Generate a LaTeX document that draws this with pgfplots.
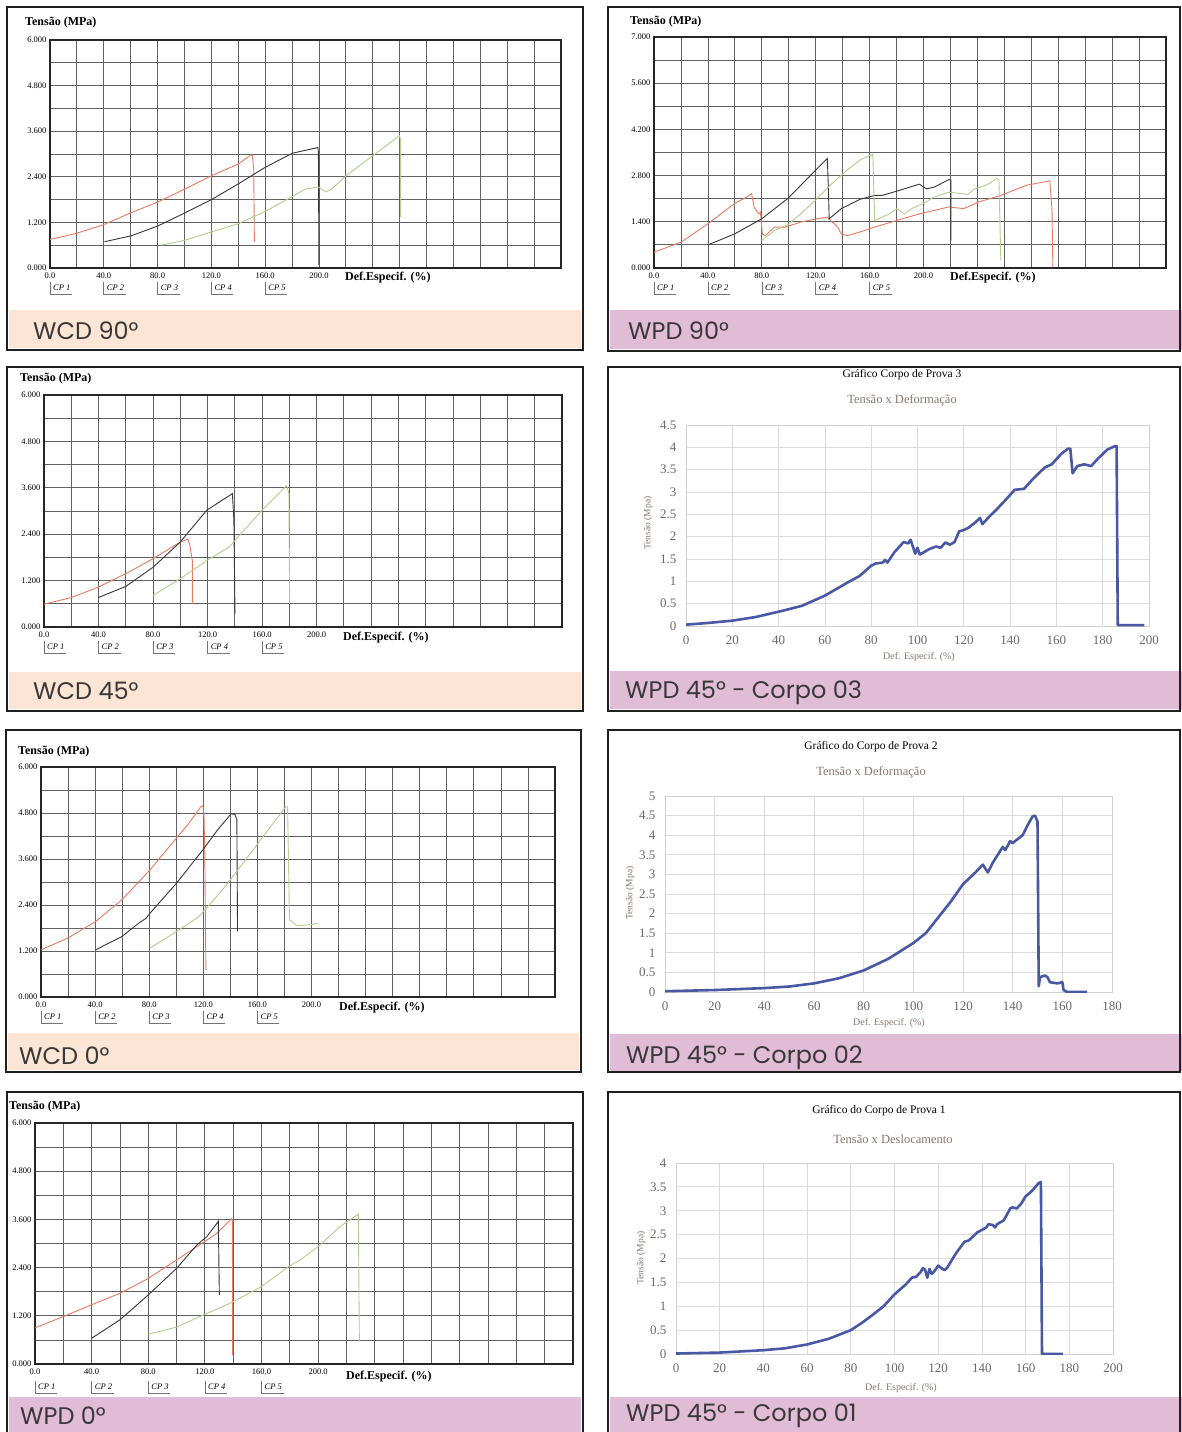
\documentclass[border=0pt]{standalone}
\usepackage{pgfplots}
\pgfplotsset{compat=1.18}
\usepackage{fontspec}
\setmainfont{Liberation Serif}
\newfontfamily\gothic{Poppins}
\definecolor{cpred}{RGB}{232,122,98}
\definecolor{cpblack}{RGB}{55,55,55}
\definecolor{cpgreen}{RGB}{178,206,140}
\definecolor{xblue}{RGB}{72,88,164}
\definecolor{peach}{RGB}{252,229,212}
\definecolor{lilac}{RGB}{225,188,214}
\definecolor{xgray}{RGB}{105,105,105}
\definecolor{subt}{RGB}{135,118,112}
\pgfplotsset{
  cpaxis/.style={scale only axis, anchor=north west, xmin=0, xmax=380, ymin=0,
    xtick={0,20,...,380},
    xticklabels={0.0,,40.0,,80.0,,120.0,,160.0,,200.0,,,,,,,,,},
    grid=major, major grid style={draw=black!62, line width=0.8pt},
    axis line style={draw=black!85, line width=1.1pt},
    major tick length=0pt,
    tick label style={font=\fontsize{8.5}{9}\selectfont},
    xticklabel shift=1pt, yticklabel shift=0pt,
    every axis plot/.append style={line width=0.9pt, no markers},
    /pgf/number format/assume math mode=true},
  sixy/.style={ymax=6, ytick={0,0.6,1.2,1.8,2.4,3,3.6,4.2,4.8,5.4,6},
    yticklabels={0.000,,1.200,,2.400,,3.600,,4.800,,6.000}},
  xlaxis/.style={scale only axis, anchor=north west, ymin=0,
    grid=major, major grid style={draw=black!14, line width=0.8pt},
    axis line style={draw=black!18, line width=0.8pt},
    major tick length=0pt,
    tick label style={font=\fontsize{13}{14}\selectfont, text=xgray},
    xticklabel shift=6pt, yticklabel shift=6pt,
    /pgf/number format/assume math mode=true},
  bl/.style={draw=xblue, line width=2.6pt, no markers, line join=round},
}
\newcommand{\cplab}[3]{%
  \node[anchor=west, inner sep=0pt, font=\fontsize{8.5}{9}\selectfont\itshape] at (#1+3,-#2) {CP #3};
  \draw[black!55, line width=0.6pt] (#1,-#2+6) -- (#1,-#2-6) -- (#1+22,-#2-6);}
\newcommand{\tens}[2]{\node[anchor=west, inner sep=0pt, font=\fontsize{12}{13}\selectfont\bfseries] at (#1,-#2) {Tensão (MPa)};}
\newcommand{\defe}[2]{\node[anchor=west, inner sep=0pt, font=\fontsize{12}{13}\selectfont\bfseries] at (#1,-#2) {Def.Especif. (\%)};}
\newcommand{\strip}[3]{\node[anchor=west, inner sep=0pt, font=\gothic\fontsize{24}{28}\selectfont, text=black!78] at (#1,-#2) {#3};}
\begin{document}
\begin{tikzpicture}[x=1pt,y=1pt]
\path[use as bounding box] (0,0) rectangle (1182,-1432);
\fill[white] (0,0) rectangle (1182,-1432);
% strips
\fill[peach] (9,-310) rectangle (581,-348);
\fill[lilac] (610,-310) rectangle (1182,-349);
\fill[peach] (9,-672) rectangle (581,-709);
\fill[lilac] (610,-671) rectangle (1182,-709);
\fill[peach] (8,-1033) rectangle (579,-1070);
\fill[lilac] (610,-1034) rectangle (1182,-1071);
\fill[lilac] (9,-1397) rectangle (581,-1440);
\fill[lilac] (610,-1397) rectangle (1182,-1440);
% frames
\begin{scope}[draw=black!88, line width=2.5pt]
\draw (7,-7) rectangle (583,-350);
\draw (608,-7) rectangle (1180,-351);
\draw (7,-367) rectangle (583,-711);
\draw (608,-367) rectangle (1180,-711);
\draw (6,-730) rectangle (581,-1072);
\draw (608,-730) rectangle (1180,-1072);
\draw (7,-1092) rectangle (583,-1445);
\draw (608,-1092) rectangle (1180,-1445);
\end{scope}

% ---------------- A: WCD 90
\begin{axis}[cpaxis, sixy, at={(50pt,-40pt)}, width=511pt, height=228pt]
\addplot[cpred] coordinates {(0,0.75)(19.6,0.91)(40.5,1.15)(60.6,1.46)(80.5,1.74)(100.3,2.08)(120.1,2.43)(140.3,2.74)(149.5,2.98)(150.5,2.95)(151.5,2.6)(152,0.69)};
\addplot[cpblack] coordinates {(40.5,0.69)(60.6,0.85)(80.5,1.11)(100.3,1.45)(120.1,1.80)(140.3,2.22)(160.1,2.65)(180.2,3.02)(199.2,3.17)(199.6,3.05)(200,0.08)};
\addplot[cpgreen] coordinates {(82.4,0.6)(100.3,0.73)(120.1,0.95)(140.3,1.17)(160.1,1.49)(180.2,1.88)(190,2.08)(199.7,2.13)(205.3,2.0)(209.5,2.08)(220.2,2.43)(240.2,2.96)(259.8,3.48)(260.5,3.4)(260.7,1.34)};
\end{axis}
\tens{25}{23}
\defe{345}{278}
\foreach \k/\n in {0/1,1/2,2/3,3/4,4/5} {\cplab{50+\k*53.79}{288}{\n}}
\strip{33}{331}{WCD 90°}

% ---------------- B: WPD 90
\begin{axis}[cpaxis, at={(654pt,-37pt)}, width=512pt, height=231pt,
  ymax=7, ytick={0,0.7,1.4,2.1,2.8,3.5,4.2,4.9,5.6,6.3,7},
  yticklabels={0.000,,1.400,,2.800,,4.200,,5.600,,7.000}]
\addplot[cpred] coordinates {(0,0.48)(20,0.78)(40,1.34)(59.7,1.95)(68.8,2.15)(72.4,2.25)(74.3,1.85)(75.7,1.75)(77.9,1.64)(79,1.69)(80.4,1.03)(82.6,0.98)(89.5,1.24)(97.7,1.24)(108.8,1.39)(120.6,1.49)(128.6,1.54)(136.3,1.24)(139,1.03)(143.2,0.98)(152.8,1.09)(163.8,1.24)(180.3,1.44)(196.9,1.64)(218.9,1.85)(229.9,1.80)(240.9,2.0)(257.4,2.2)(276.7,2.51)(293.8,2.64)(295.4,1.74)(296,0.02)};
\addplot[cpblack] coordinates {(40,0.70)(59.7,1.03)(79.9,1.49)(99.7,2.12)(119.8,2.96)(128.6,3.32)(129.4,2.46)(130,1.49)(139,1.80)(152.8,2.08)(163.8,2.2)(169.3,2.2)(180.3,2.33)(196.9,2.54)(202.3,2.40)(207.9,2.45)(218.9,2.68)(220.3,2.66)(220.3,0.83)};
\addplot[cpgreen] coordinates {(80.4,0.85)(89.5,1.14)(99.7,1.32)(108.8,1.64)(119.8,2.05)(130.8,2.51)(141.8,2.91)(152.8,3.27)(162.4,3.45)(163.8,1.44)(169.3,1.54)(174.8,1.64)(180.3,1.80)(185.8,1.64)(191.3,1.80)(199.6,1.95)(207.9,2.15)(218.9,2.30)(232.6,2.23)(238.1,2.40)(246.4,2.51)(254.6,2.71)(256,2.66)(257.4,0.22)};
\end{axis}
\tens{630}{22}
\defe{950}{278}
\foreach \k/\n in {0/1,1/2,2/3,3/4,4/5} {\cplab{654+\k*53.9}{288}{\n}}
\strip{628}{331}{WPD 90°}

% ---------------- C: WCD 45
\begin{axis}[cpaxis, sixy, at={(44pt,-395pt)}, width=518pt, height=232pt]
\addplot[cpred] coordinates {(0,0.59)(19.9,0.76)(39.8,1.03)(60,1.38)(80.2,1.77)(100,2.2)(105.6,2.27)(107,2.11)(108.8,1.72)(108.8,0.6)};
\addplot[cpblack] coordinates {(39.8,0.76)(60,1.05)(80.2,1.55)(100,2.2)(119.4,3.02)(138.2,3.45)(139.3,2.76)(140.1,0.34)};
\addplot[cpgreen] coordinates {(80.2,0.82)(100,1.25)(119.4,1.72)(136,2.07)(140.1,2.24)(160,3.02)(178,3.66)(179.7,3.45)(180.2,0.6)};
\end{axis}
\tens{20}{379}
\defe{343}{638}
\foreach \k/\n in {0/1,1/2,2/3,3/4,4/5} {\cplab{44+\k*54.53}{647}{\n}}
\strip{33}{691}{WCD 45°}

% ---------------- D: WPD 45 Corpo 03
\begin{axis}[xlaxis, at={(686pt,-425pt)}, width=463pt, height=201pt,
  xmin=0, xmax=200, ymax=4.5, xtick={0,20,...,200}, ytick={0,0.5,1,1.5,2,2.5,3,3.5,4,4.5}]
\addplot[bl] coordinates {(0,0.03)(10,0.07)(20,0.12)(30,0.2)(40,0.32)(50,0.45)(60,0.68)(70,0.98)(75,1.12)(80,1.35)(82,1.4)(85,1.42)(86,1.48)(87,1.42)(90,1.65)(94,1.88)(96,1.85)(97,1.93)(99,1.62)(100,1.75)(101,1.6)(105,1.72)(108,1.78)(110,1.75)(112,1.87)(114,1.82)(116,1.88)(118,2.12)(120,2.15)(122,2.2)(125,2.32)(127,2.42)(128,2.28)(131,2.45)(134,2.6)(138,2.82)(142,3.05)(146,3.07)(150,3.3)(155,3.55)(158,3.62)(162,3.85)(165,3.97)(166,3.97)(167,3.42)(168,3.5)(169,3.58)(172,3.62)(175,3.58)(178,3.75)(182,3.95)(185,4.02)(186,4.03)(186.5,0.02)(198,0.02)};
\end{axis}
\node[font=\fontsize{11.5}{12}\selectfont] at (902,-375) {Gráfico Corpo de Prova 3};
\node[font=\fontsize{12.5}{13}\selectfont, text=subt] at (902,-400) {Tensão x Deformação};
\node[font=\fontsize{9.5}{10}\selectfont, text=subt, rotate=90] at (648,-523) {Tensão (Mpa)};
\node[font=\fontsize{10}{11}\selectfont, text=subt] at (919,-657) {Def. Especif. (\%)};
\strip{625}{693}{WPD 45° - Corpo 03}

% ---------------- E: WCD 0
\begin{axis}[cpaxis, sixy, at={(41pt,-767pt)}, width=514pt, height=230pt]
\addplot[cpred] coordinates {(0,1.23)(20,1.54)(40.4,1.97)(59.9,2.54)(80.7,3.32)(100.2,4.15)(108.6,4.50)(118.3,4.97)(119.7,4.99)(120.5,4.71)(121.1,3.76)(121.9,0.71)};
\addplot[cpblack] coordinates {(40.4,1.23)(59.9,1.58)(72.4,1.93)(77.9,2.06)(80.7,2.19)(100.2,2.97)(119.7,3.84)(130.8,4.37)(140.6,4.78)(143.4,4.76)(144.8,4.63)(145.3,1.71)};
\addplot[cpgreen] coordinates {(80.7,1.28)(100.2,1.71)(116.9,2.10)(136.4,2.89)(161.5,4.06)(180.9,4.96)(182.3,4.96)(183.7,2.02)(189.3,1.86)(200.4,1.89)(204.6,1.93)};
\end{axis}
\tens{18}{752}
\defe{339}{1008}
\foreach \k/\n in {0/1,1/2,2/3,3/4,4/5} {\cplab{41+\k*54.1}{1017}{\n}}
\strip{19}{1056}{WCD 0°}

% ---------------- F: WPD 45 Corpo 02
\begin{axis}[xlaxis, at={(665pt,-796pt)}, width=447pt, height=196pt,
  xmin=0, xmax=180, ymax=5, xtick={0,20,...,180}, ytick={0,0.5,1,1.5,2,2.5,3,3.5,4,4.5,5}]
\addplot[bl] coordinates {(0,0.02)(20,0.05)(40,0.1)(50,0.14)(60,0.22)(70,0.35)(80,0.55)(90,0.85)(100,1.25)(105,1.5)(110,1.9)(115,2.3)(120,2.75)(125,3.05)(128,3.25)(130,3.05)(132,3.3)(135,3.6)(136,3.7)(137,3.62)(139,3.85)(140,3.8)(142,3.9)(144,4.0)(146,4.25)(148,4.48)(149,4.5)(150,4.35)(150.5,0.15)(151,0.38)(153,0.42)(154,0.38)(155,0.25)(158,0.22)(160,0.25)(160.5,0.05)(162,0)(170,0)};
\end{axis}
\node[font=\fontsize{11.5}{12}\selectfont] at (871,-747) {Gráfico do Corpo de Prova 2};
\node[font=\fontsize{12.5}{13}\selectfont, text=subt] at (871,-772) {Tensão x Deformação};
\node[font=\fontsize{9.5}{10}\selectfont, text=subt, rotate=90] at (630,-893) {Tensão (Mpa)};
\node[font=\fontsize{10}{11}\selectfont, text=subt] at (889,-1023) {Def. Especif. (\%)};
\strip{626}{1058}{WPD 45° - Corpo 02}

% ---------------- G: WPD 0
\begin{axis}[cpaxis, sixy, at={(35pt,-1123pt)}, width=538pt, height=241pt]
\addplot[cpred] coordinates {(0,0.90)(20,1.18)(39.6,1.47)(60,1.76)(80,2.13)(100,2.59)(114.2,2.92)(128.3,3.25)(138.9,3.62)(139.4,3.55)(139.6,0.22)};
\addplot[cpblack] coordinates {(40,0.64)(60,1.10)(80,1.72)(100,2.38)(114.2,2.96)(121.3,3.17)(129.5,3.55)(130.2,1.72)};
\addplot[cpgreen] coordinates {(80,0.74)(100,0.92)(118.9,1.22)(137.7,1.51)(160.1,1.93)(178.9,2.42)(187.2,2.59)(201.3,2.96)(215.4,3.42)(228.4,3.73)(229.1,0.56)};
\end{axis}
\tens{9}{1107}
\defe{346}{1377}
\foreach \k/\n in {0/1,1/2,2/3,3/4,4/5} {\cplab{35+\k*56.63}{1387}{\n}}
\strip{20}{1416}{WPD 0°}

% ---------------- H: WPD 45 Corpo 01
\begin{axis}[xlaxis, at={(676pt,-1163pt)}, width=437pt, height=191pt,
  xmin=0, xmax=200, ymax=4, xtick={0,20,...,200}, ytick={0,0.5,1,1.5,2,2.5,3,3.5,4}]
\addplot[bl] coordinates {(0,0.01)(20,0.03)(40,0.08)(50,0.12)(60,0.2)(70,0.32)(80,0.5)(85,0.65)(90,0.82)(95,1.0)(100,1.25)(105,1.45)(108,1.6)(110,1.62)(112,1.72)(113,1.8)(114,1.76)(115,1.6)(116,1.78)(117,1.68)(118,1.72)(120,1.85)(122,1.78)(123,1.76)(124,1.8)(126,1.95)(128,2.1)(132,2.35)(134,2.38)(138,2.55)(142,2.65)(143,2.72)(145,2.7)(146,2.65)(147,2.72)(150,2.8)(153,3.05)(154,3.07)(156,3.05)(158,3.15)(160,3.3)(163,3.42)(166,3.58)(167,3.6)(167.5,0.0)(177,0.0)};
\end{axis}
\node[font=\fontsize{11.5}{12}\selectfont] at (879,-1111) {Gráfico do Corpo de Prova 1};
\node[font=\fontsize{12.5}{13}\selectfont, text=subt] at (893,-1139) {Tensão x Deslocamento};
\node[font=\fontsize{9.5}{10}\selectfont, text=subt, rotate=90] at (641,-1258) {Tensão (Mpa)};
\node[font=\fontsize{10}{11}\selectfont, text=subt] at (901,-1388) {Def. Especif. (\%)};
\strip{626}{1416}{WPD 45° - Corpo 01}
\end{tikzpicture}
\end{document}
